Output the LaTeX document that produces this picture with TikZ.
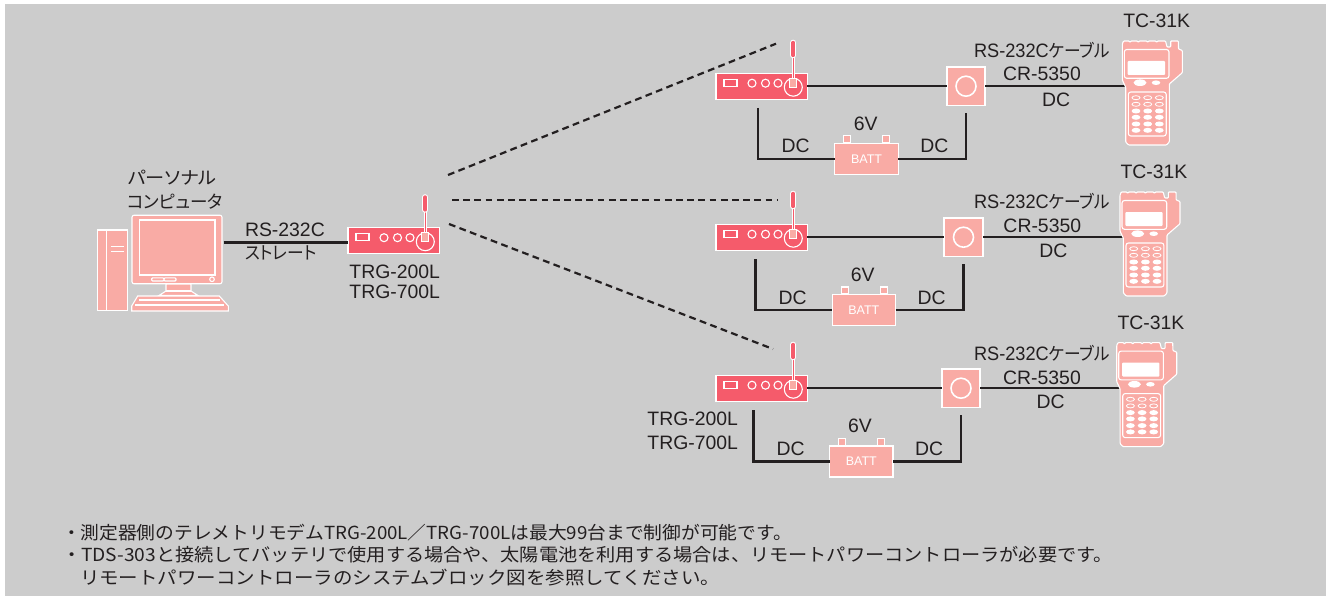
\documentclass[tikz,border=0pt]{standalone}
\usepackage{fontspec}
\usepackage{graphicx}
\setmainfont{Liberation Sans}
\newfontfamily\jpf[RawFeature=+palt]{Noto Sans CJK JP}
\newfontfamily\jpw{Noto Sans CJK JP}
\newcommand{\jp}[1]{{\jpf\fontsize{17.8}{20}\selectfont #1}}
\definecolor{bggray}{HTML}{CCCCCC}
\definecolor{pinkc}{HTML}{F9ABA5}
\definecolor{redc}{HTML}{F55B6B}
\definecolor{inkc}{HTML}{231F20}
\tikzset{
  lbl/.style={inner sep=0, outer sep=0, text=inkc, font=\fontsize{19.4}{22}\selectfont},
  note/.style={inner sep=0, outer sep=0, anchor=west, text=inkc, font=\jpw\fontsize{18}{20}\selectfont},
  wire/.style={draw=inkc, line width=2.4pt},
  dashwire/.style={draw=inkc, line width=2.2pt, dash pattern=on 6.8pt off 4.4pt},
  modembox/.style={draw=white, fill=redc, line width=1.2pt, rectangle, minimum width=91.2pt, minimum height=26pt, inner sep=0, outer sep=0, anchor=north west},
  squarebox/.style={draw=white, fill=pinkc, line width=1.6pt, rectangle, minimum size=38.5pt, inner sep=0, outer sep=0},
  battbox/.style={draw=white, fill=pinkc, line width=1.2pt, rectangle, minimum width=63.4pt, minimum height=31pt, inner sep=0, outer sep=0, text=white, font=\fontsize{12.5}{14}\selectfont},
  wl/.style={draw=white, line width=1.1pt},
  pinkw/.style={draw=white, fill=pinkc, line width=1.1pt},
}
\newcommand{\modemparts}[1]{%
  \begin{scope}[shift={(#1.north west)}]
    \draw[wl] (8,6) rectangle (21,13);
    \draw[wl] (36,10) circle (4) (49.5,10) circle (4) (62,10) circle (4);
    \draw[wl] (77.3,14) circle (9);
    \draw[white,line width=3.6pt] (77.3,-17) -- (77.3,5);
    \draw[redc,line width=1.6pt] (77.3,-17) -- (77.3,5);
    \draw[white,line width=6pt,line cap=round] (77.3,-30.5) -- (77.3,-18);
    \draw[redc,line width=3.8pt,line cap=round] (77.3,-30.5) -- (77.3,-18);
    \draw[pinkw] (73.8,5) rectangle (80.8,14);
  \end{scope}}
\newcommand{\battterm}[1]{%
  \begin{scope}[shift={(#1.north west)}]
    \draw[pinkw] (9,-7.5) rectangle (16,-0.6);
    \draw[pinkw] (48,-7.5) rectangle (55,-0.6);
  \end{scope}}
\newcommand{\handset}[2]{%
  \begin{scope}[shift={(#1,#2)}]
    \draw[draw=white,fill=pinkc,line width=1.1pt,rounded corners=0.8pt]
      (1122.3,44) -- (1123.5,41) -- (1129.3,41) -- (1130,42.6) -- (1130.7,41) -- (1137.6,41) -- (1138.3,42.6) -- (1139,41)
      -- (1147,41) -- (1147.7,42.6) -- (1148.4,41) -- (1156,41) -- (1156.7,42.6) -- (1157.4,41) -- (1165.5,41)
      -- (1167,47) -- (1170.7,47) -- (1170.7,41) -- (1178.3,41) -- (1178.5,49) -- (1182.3,50.5)
      -- (1182.3,72.7) -- (1169.3,84) -- (1169.3,142) -- (1166.5,145) -- (1128.5,145) -- (1125.7,142)
      -- (1125.7,87.3) -- (1122.3,80) -- cycle;
    \draw[wl,rounded corners=2.5pt] (1124.3,49.5) rectangle (1169,78.3);
    \fill[white,rounded corners=1pt] (1127.7,61) rectangle (1165,75);
    \fill[white] (1140,82.7) ellipse (6.5 and 3.3) (1156,82.7) ellipse (4.3 and 2.3);
    \draw[wl,rounded corners=2.5pt] (1128.3,92) rectangle (1166.2,136);
    \foreach \kx in {1136,1147.7,1159.3}{
      \foreach \ky in {97.7,104.3}{\draw[white,line width=0.8pt] (\kx,\ky) ellipse (4 and 2);}
      \foreach \ky in {111,117.3,124,130.3}{\fill[white] (\kx,\ky) ellipse (4.4 and 2.5);}
    }
  \end{scope}}
\newcommand{\cablelbl}{\resizebox{136pt}{\height}{RS-232C\jp{ケーブル}}}
\begin{document}
\begin{tikzpicture}[x=1pt,y=-1pt]
\useasboundingbox (0,0) rectangle (1327,596);
\fill[white] (0,0) rectangle (1327,596);
\fill[bggray] (5,4) rectangle (1326,596);

% ---- computer
\node[draw=white,fill=pinkc,line width=1.1pt,rounded corners=2pt,rectangle,inner sep=0,outer sep=0,
      minimum width=90pt,minimum height=68.5pt] (pc) at (177,249.5) {};
\draw[pinkw] (97.7,230) rectangle (127.3,310.7);
\draw[wl] (106.7,230) -- (106.7,310.7);
\draw[wl] (111,246.7) -- (124.3,246.7) (111,251.7) -- (124.3,251.7);
\draw[wl] (139.3,220) rectangle (215,275);
\draw[wl,rounded corners=1pt] (151.7,277.8) rectangle (164,281) (164,277.8) rectangle (176,281);
\draw[wl] (212,279.3) circle (2.3);
\draw[pinkw] (166,284) -- (191,284) -- (191,291) -- (198,295.5) -- (159,295.5) -- (166,291) -- cycle;
\draw[wl] (166,291) -- (191,291);
\draw[pinkw] (137.7,296) -- (219.3,296) -- (228.3,306) -- (228.3,311) -- (131.7,311) -- (131.7,306) -- cycle;
\draw[wl] (139,300) -- (220,300) (135,305) -- (224,305);

% ---- central modem
\node[modembox] (m0) at (348,227.7) {};
\modemparts{m0}
\coordinate (pcport) at (223.5,242.3);
\draw[wire] (pcport) -- (pcport -| m0.west);

\node[lbl] (pcl1) at (172.2,177.5) {\resizebox{89pt}{\height}{\jp{パーソナル}}};
\node[lbl] (pcl2) at (175,202) {\resizebox{96pt}{\height}{\jp{コンピュータ}}};
\node[lbl,anchor=west] (rs0) at (245,230) {RS-232C};
\node[lbl,anchor=west] (st0) at (245,253) {\resizebox{72pt}{\height}{\jp{ストレート}}};
\node[lbl] (t0a) at (394.7,272.3) {TRG-200L};
\node[lbl] (t0b) at (394.7,292.3) {TRG-700L};

% ---- radio links
\coordinate (da1) at (448,175);  \coordinate (db1) at (776,43.7);
\coordinate (da2) at (452,200);  \coordinate (db2) at (778,200);
\coordinate (da3) at (449,224);  \coordinate (db3) at (773,349);
\draw[dashwire] (da1) -- (db1);
\draw[dashwire] (da2) -- (db2);
\draw[dashwire] (da3) -- (db3);

% ---- row 1
\node[modembox] (m1) at (716,73.2) {};
\modemparts{m1}
\node[squarebox] (s1) at (966,86.2) {};
\node[draw=white,line width=1.6pt,circle,minimum size=20pt,inner sep=0] (c1) at (s1) {};
\node[battbox] (b1) at (866.5,158.8) {BATT};
\battterm{b1}
\coordinate (dl1) at (758,108);
\coordinate (dr1) at (966,112.7);
\coordinate (tc1) at (1126,86.2);
\draw[wire] (m1) -- (s1);
\draw[wire] (s1) -- (tc1);
\draw[wire] (dl1) |- (b1.west);
\draw[wire] (b1.east) -| (dr1);
\handset{0}{0}
\node[lbl] (tk1) at (1156.7,21) {TC-31K};
\node[lbl,anchor=west] (rs1) at (974,50) {\cablelbl};
\node[lbl] (cr1) at (1042,74) {CR-5350};
\node[lbl] (dc1) at (1056,100) {DC};
\node[lbl] (v1) at (865.7,124) {6V};
\node[lbl] (dl1t) at (795.7,145.7) {DC};
\node[lbl] (dr1t) at (934.3,145.7) {DC};

% ---- row 2
\node[modembox] (m2) at (716,224.2) {};
\modemparts{m2}
\node[squarebox] (s2) at (963.5,237.2) {};
\node[draw=white,line width=1.6pt,circle,minimum size=20pt,inner sep=0] (c2) at (s2) {};
\node[battbox] (b2) at (863.8,310) {BATT};
\battterm{b2}
\coordinate (dl2) at (755.3,259.3);
\coordinate (dr2) at (963.3,264.3);
\coordinate (tc2) at (1124,237.2);
\draw[wire] (m2) -- (s2);
\draw[wire] (s2) -- (tc2);
\draw[wire] (dl2) |- (b2.west);
\draw[wire] (b2.east) -| (dr2);
\handset{-2.3}{151}
\node[lbl] (tk2) at (1154,172.3) {TC-31K};
\node[lbl,anchor=west] (rs2) at (974,201.7) {\cablelbl};
\node[lbl] (cr2) at (1042.3,226) {CR-5350};
\node[lbl] (dc2) at (1053.3,250.7) {DC};
\node[lbl] (v2) at (862.7,275) {6V};
\node[lbl] (dl2t) at (792.7,297.7) {DC};
\node[lbl] (dr2t) at (931.7,297.7) {DC};

% ---- row 3
\node[modembox] (m3) at (716,375.2) {};
\modemparts{m3}
\node[squarebox] (s3) at (961,388.2) {};
\node[draw=white,line width=1.6pt,circle,minimum size=20pt,inner sep=0] (c3) at (s3) {};
\node[battbox] (b3) at (861.3,461.5) {BATT};
\battterm{b3}
\coordinate (dl3) at (753.3,410);
\coordinate (dr3) at (961,415);
\coordinate (tc3) at (1121,388.2);
\draw[wire] (m3) -- (s3);
\draw[wire] (s3) -- (tc3);
\draw[wire] (dl3) |- (b3.west);
\draw[wire] (b3.east) -| (dr3);
\handset{-5.6}{301.6}
\node[lbl] (tk3) at (1151,323.3) {TC-31K};
\node[lbl,anchor=west] (rs3) at (974,353) {\cablelbl};
\node[lbl] (cr3) at (1042,378) {CR-5350};
\node[lbl] (dc3) at (1050.7,401.7) {DC};
\node[lbl] (v3) at (860,426) {6V};
\node[lbl] (dl3t) at (790.7,449) {DC};
\node[lbl] (dr3t) at (929,449) {DC};
\node[lbl] (t3a) at (692.7,419) {TRG-200L};
\node[lbl] (t3b) at (692.7,443) {TRG-700L};

% ---- notes
\node[note] (n1) at (62,532.7) {\resizebox{730pt}{\height}{・測定器側のテレメトリモデムTRG-200L／TRG-700Lは最大99台まで制御が可能です。}};
\node[note] (n2) at (62,555) {\resizebox{1051pt}{\height}{・TDS-303と接続してバッテリで使用する場合や、太陽電池を利用する場合は、リモートパワーコントローラが必要です。}};
\node[note] (n3) at (80,577.3) {\resizebox{640pt}{\height}{リモートパワーコントローラのシステムブロック図を参照してください。}};
\end{tikzpicture}
\end{document}
